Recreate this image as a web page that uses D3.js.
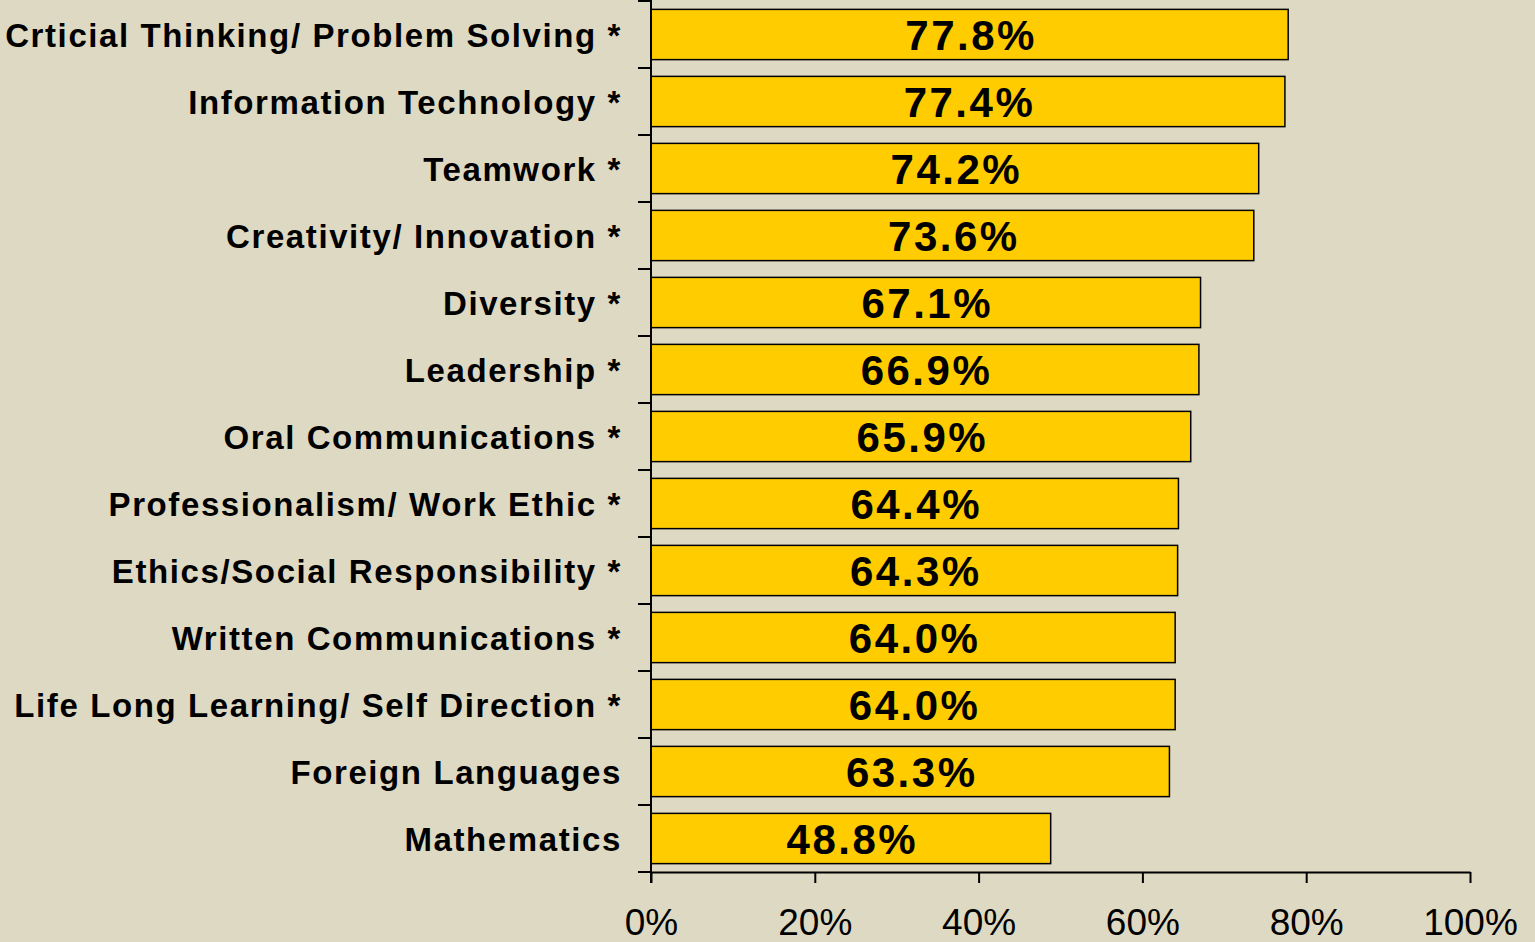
<!DOCTYPE html>
<html><head><meta charset="utf-8">
<script src="https://cdn.jsdelivr.net/npm/d3@7"></script>
<style>
html,body{margin:0;padding:0;background:#DDD9C3;}
svg{display:block;}
</style></head>
<body>
<svg id="chart" width="1535" height="942"></svg>
<script>
const categories = [
  "Crticial Thinking/ Problem Solving *",
  "Information Technology *",
  "Teamwork *",
  "Creativity/ Innovation *",
  "Diversity *",
  "Leadership *",
  "Oral Communications *",
  "Professionalism/ Work Ethic *",
  "Ethics/Social Responsibility *",
  "Written Communications *",
  "Life Long Learning/ Self Direction *",
  "Foreign Languages",
  "Mathematics"
];
const values = [77.8, 77.4, 74.2, 73.6, 67.1, 66.9, 65.9, 64.4, 64.3, 64.0, 64.0, 63.3, 48.8];
const tickValues = [0, 20, 40, 60, 80, 100];

(function () {
const svg = d3.select("#chart");
const mLeft = 651, mRight = 1470, mTop = 1, mBottom = 872;

const x = d3.scaleLinear().domain([0, 100]).range([mLeft, mRight]);
const y = d3.scaleBand().domain(categories).range([mTop, mBottom]).paddingInner(0.25).paddingOuter(0.125);

// bars
svg.append("g").selectAll("rect").data(categories).join("rect")
  .attr("x", x(0))
  .attr("y", d => y(d))
  .attr("width", (d, i) => x(values[i]) - x(0))
  .attr("height", y.bandwidth())
  .attr("fill", "#FFCC00")
  .attr("stroke", "#000")
  .attr("stroke-width", 1.5);

// value labels
svg.append("g").selectAll("text").data(categories).join("text")
  .attr("x", (d, i) => (x(0) + x(values[i])) / 2 + 1.5)
  .attr("y", d => y(d) + y.bandwidth() / 2 + 15)
  .attr("text-anchor", "middle")
  .attr("font-family", "Liberation Sans, Arial, sans-serif")
  .attr("font-weight", "bold")
  .attr("font-size", 42)
  .attr("letter-spacing", "2.5px")
  .attr("fill", "#000")
  .text((d, i) => values[i].toFixed(1) + "%");

// x axis
const xAxis = d3.axisBottom(x).tickValues(tickValues).tickFormat(d => d + "%").tickSize(11).tickSizeOuter(0);
const gx = svg.append("g").attr("transform", `translate(0,${mBottom})`).call(xAxis);
gx.select(".domain").attr("stroke", "#000").attr("stroke-width", 2);
gx.selectAll(".tick line").attr("stroke", "#000").attr("stroke-width", 2);
gx.selectAll(".tick text")
  .attr("font-family", "Liberation Sans, Arial, sans-serif")
  .attr("font-size", 37)
  .attr("fill", "#000")
  .attr("dy", null)
  .attr("y", 63);

// y axis with ticks at category boundaries
const gy = svg.append("g");
gy.append("line").attr("x1", mLeft).attr("x2", mLeft).attr("y1", mTop - 1).attr("y2", mBottom + 11)
  .attr("stroke", "#000").attr("stroke-width", 2);
const boundaries = d3.range(categories.length + 1).map(i => mTop + i * y.step());
gy.selectAll("line.tk").data(boundaries).join("line").attr("class", "tk")
  .attr("x1", mLeft - 13).attr("x2", mLeft)
  .attr("y1", d => d).attr("y2", d => d)
  .attr("stroke", "#000").attr("stroke-width", 2);

// category labels
gy.selectAll("text").data(categories).join("text")
  .attr("x", 622)
  .attr("y", d => y(d) + y.bandwidth() / 2 + 12)
  .attr("text-anchor", "end")
  .attr("font-family", "Liberation Sans, Arial, sans-serif")
  .attr("font-weight", "bold")
  .attr("font-size", 33)
  .attr("letter-spacing", "1.6px")
  .attr("fill", "#000")
  .text(d => d);
})();
</script>
</body></html>
